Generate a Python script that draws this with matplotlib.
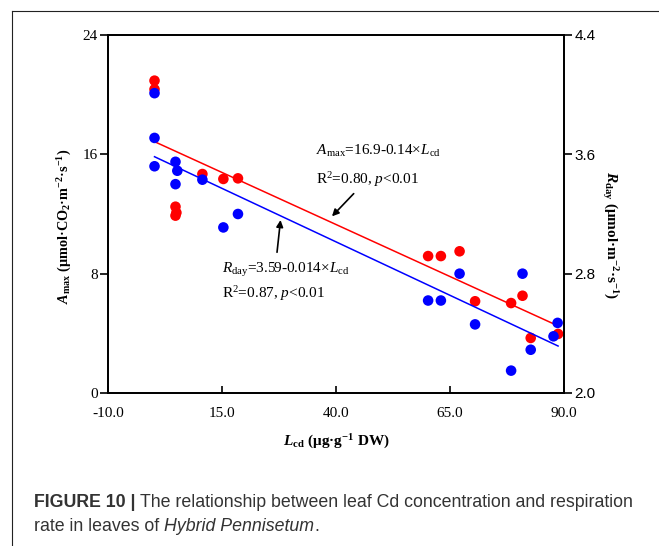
import numpy as np
import matplotlib
matplotlib.use('Agg')
import matplotlib.pyplot as plt
from matplotlib.lines import Line2D

plt.rcParams['mathtext.fontset'] = 'custom'
plt.rcParams['mathtext.rm'] = 'Liberation Serif'
plt.rcParams['mathtext.it'] = 'Liberation Serif:italic'
plt.rcParams['mathtext.bf'] = 'Liberation Serif:bold'
plt.rcParams['mathtext.bfit'] = 'Liberation Serif:italic:bold'
plt.rcParams['font.family'] = 'Liberation Serif'

# leaf Cd concentration vs A_max (red, left axis)
lcd_a = [0.2, 0.2, 4.8, 5.0, 4.8, 10.7, 15.3, 18.5, 60.2, 63.0, 67.1, 70.5, 78.4, 80.9, 82.7, 88.7]
amax = [20.94, 20.36, 12.49, 12.09, 11.89, 14.68, 14.35, 14.39, 9.18, 9.18, 9.50, 6.15, 6.03, 6.52, 3.69, 3.96]

# leaf Cd concentration vs R_day (blue, right axis)
lcd_r = [0.2, 0.2, 0.2, 4.8, 5.2, 4.8, 10.7, 18.5, 15.3, 67.1, 80.9, 60.2, 63.0, 70.5, 82.7, 78.4, 88.6, 87.7]
rday = [4.01, 3.71, 3.52, 3.55, 3.49, 3.40, 3.43, 3.20, 3.11, 2.80, 2.80, 2.62, 2.62, 2.46, 2.29, 2.15, 2.47, 2.38]

# fitted lines (end points)
fit_x = [0.2, 88.7]
fit_a = [16.85, 4.5]
fit_r = [3.584, 2.315]

xticks = [-10, 15, 40, 65, 90]
yticks_l = [0, 8, 16, 24]
yticks_r = [2.0, 2.8, 3.6, 4.4]

W, H = 659, 546
fig = plt.figure(figsize=(W / 100, H / 100), dpi=100)
ax = fig.add_axes([108 / W, 1 - 393 / H, (564 - 108) / W, (393 - 35) / H])
ax2 = ax.twinx()

ax.plot(fit_x, fit_a, color='#ff0000', lw=1.1, zorder=2)
ax2.plot(fit_x, fit_r, color='#0000ff', lw=1.1, zorder=2)
ax.scatter(lcd_a, amax, s=58, color='#ff0000', edgecolors='none', zorder=3)
ax2.scatter(lcd_r, rday, s=58, color='#0000ff', edgecolors='none', zorder=3)

ax.set_xlim(-10, 90)
ax.set_ylim(0, 24)
ax2.set_ylim(2.0, 4.4)
ax.set_xticks(xticks)
ax.set_xticklabels(['%.1f' % v for v in xticks], fontsize=11, family='Liberation Serif')
ax.set_yticks(yticks_l)
ax.set_yticklabels([str(v) for v in yticks_l], fontsize=11, family='Liberation Serif')
ax2.set_yticks(yticks_r)
ax2.set_yticklabels(['%.1f' % v for v in yticks_r], fontsize=11, family='Liberation Sans')

ax.tick_params(axis='x', direction='in', length=5, width=1.2, pad=10)
ax.tick_params(axis='y', direction='out', length=5.5, width=1.2, pad=2)
ax2.tick_params(axis='y', direction='out', length=5.5, width=1.2, pad=2)
for a in (ax, ax2):
    for sp in a.spines.values():
        sp.set_linewidth(1.3)

ax.set_xlabel(r'$\mathbfit{L}_{\mathbf{cd}}$ (μg·g$^{\mathbf{-1}}$ DW)', fontsize=11, fontweight='bold')
ax.xaxis.set_label_coords(0.5, -0.11)
ax.set_ylabel(r'$\mathbfit{A}_{\mathbf{max}}$ (μmol·CO$_{\mathbf{2}}$·m$^{\mathbf{-2}}$·s$^{\mathbf{-1}}$)', fontsize=10.3, fontweight='bold')
ax.yaxis.set_label_coords(-0.074, 0.466)
ax2.set_ylabel(r'$\mathbfit{R}_{\mathbf{day}}$ (μmol·m$^{\mathbf{-2}}$·s$^{\mathbf{-1}}$)', fontsize=11, fontweight='bold', rotation=270, va='bottom')
ax2.yaxis.set_label_coords(1.08, 0.44)

ax.text(35.7, 15.95, r'$\mathit{A}_{\mathrm{max}}$=16.9-0.14×$\mathit{L}_{\mathrm{cd}}$', fontsize=11, va='baseline')
ax.text(35.7, 14.0, r'R$^2$=0.80, $\mathit{p}$<0.01', fontsize=11, va='baseline')
ax.annotate('', xy=(38.7, 11.71), xytext=(44.3, 13.5),
            arrowprops=dict(arrowstyle='-|>', color='black', lw=1.2, mutation_scale=10))

ax.text(14.9, 8.04, r'$\mathit{R}_{\mathrm{day}}$=3.59-0.014×$\mathit{L}_{\mathrm{cd}}$', fontsize=11, va='baseline')
ax.text(14.9, 6.37, r'R$^2$=0.87, $\mathit{p}$<0.01', fontsize=11, va='baseline')
ax.annotate('', xy=(27.9, 11.78), xytext=(27.0, 9.25),
            arrowprops=dict(arrowstyle='-|>', color='black', lw=1.2, mutation_scale=10))

# frame around figure
fig.add_artist(Line2D([12 / W, 12 / W], [0, 1 - 11 / H], color='#222222', lw=0.8))
fig.add_artist(Line2D([12 / W, 1], [1 - 11 / H, 1 - 11 / H], color='#222222', lw=0.8))

# caption
cap_color = '#333333'
renderer = fig.canvas.get_renderer()


def put_parts(parts, x0, y0):
    x = x0
    for s, kw in parts:
        t = fig.text(x / W, 1 - y0 / H, s, fontsize=12.8, color=cap_color,
                     family='Liberation Sans', va='baseline', ha='left', **kw)
        bb = t.get_window_extent(renderer=renderer)
        x = bb.x1


put_parts([('FIGURE 10 | ', dict(fontweight='bold')),
           ('The relationship between leaf Cd concentration and respiration', {})], 34, 507)
put_parts([('rate in leaves of ', {}),
           ('Hybrid Pennisetum', dict(style='italic')),
           ('.', {})], 34, 531)

fig.savefig('out.png', dpi=100)
